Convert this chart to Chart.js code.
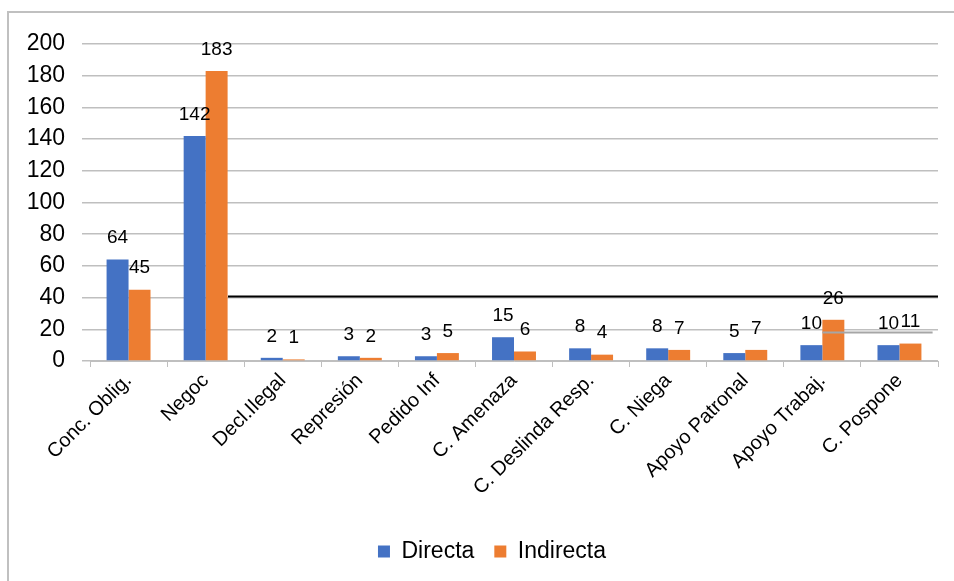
<!DOCTYPE html>
<html>
<head>
<meta charset="utf-8">
<script src="https://cdn.jsdelivr.net/npm/chart.js@4"></script>
<style>
  html, body { margin: 0; padding: 0; background: #fff; }
  #wrap { position: relative; width: 954px; height: 581px; }
  #frame { position: absolute; left: 7px; top: 11px; right: 0; bottom: 0;
           border-top: 2px solid #c0c0c0; border-left: 2px solid #c0c0c0; }
  canvas { position: absolute; left: 0; top: 0; }
</style>
</head>
<body>
<div id="wrap">
  <div id="frame"></div>
  <canvas id="barChart" width="954" height="581"></canvas>
</div>
<script>
// categorias y series
var categorias = ["Conc. Oblig.", "Negoc", "Decl.Ilegal", "Represión", "Pedido Inf",
    "C. Amenaza", "C. Deslinda Resp.", "C. Niega", "Apoyo Patronal", "Apoyo Trabaj.", "C. Pospone"];
var directa = [64, 142, 2, 3, 3, 15, 8, 8, 5, 10, 10];
var indirecta = [45, 183, 1, 2, 5, 6, 4, 7, 7, 26, 11];

// lineas sueltas que aparecen en la imagen (valor, desde categoria, hasta categoria)
var lineaValores = [41, 18];
var lineaDesde = [1.29, 9];
var lineaHasta = [10.9, 10.43];
var lineaColores = ['#000000', '#a6a6a6'];

// etiquetas de datos sobre las barras
var etiquetasPlugin = {
    id: 'etiquetas',
    afterDatasetsDraw: function (chart) {
        var ctx = chart.ctx;
        ctx.save();
        ctx.font = '19px "Liberation Sans", Arial, sans-serif';
        ctx.fillStyle = '#000';
        ctx.textAlign = 'center';
        ctx.textBaseline = 'bottom';
        chart.data.datasets.forEach(function (ds, i) {
            chart.getDatasetMeta(i).data.forEach(function (bar, j) {
                ctx.fillText(ds.data[j], bar.x, bar.y - 12);
            });
        });
        ctx.restore();
    }
};

var lineasPlugin = {
    id: 'lineas',
    afterDatasetsDraw: function (chart) {
        var ctx = chart.ctx;
        var xs = chart.scales.x, ys = chart.scales.y;
        ctx.save();
        lineaValores.forEach(function (v, i) {
            var y = Math.round(ys.getPixelForValue(v)) + 0.5;
            var x1 = xs.getPixelForValue(lineaDesde[i]);
            var x2 = Math.min(xs.getPixelForValue(lineaHasta[i]), chart.chartArea.right);
            ctx.strokeStyle = lineaColores[i];
            ctx.lineWidth = 2;
            ctx.beginPath();
            ctx.moveTo(x1, y);
            ctx.lineTo(x2, y);
            ctx.stroke();
        });
        ctx.restore();
    }
};

// la leyenda va centrada bajo el area de barras, no bajo todo el lienzo
var leyendaPlugin = {
    id: 'leyendaCentro',
    afterLayout: function (chart) {
        chart.legend.left += 13;
        chart.legend.right += 13;
    }
};

var ctxB = document.getElementById("barChart").getContext('2d');
var myBarChart = new Chart(ctxB, {
    type: 'bar',
    data: {
        labels: categorias,
        datasets: [{
                label: "Directa",
                data: directa,
                backgroundColor: '#4472C4',
                borderWidth: 0
            },
            {
                label: "Indirecta",
                data: indirecta,
                backgroundColor: '#ED7D31',
                borderWidth: 0
            }
        ]
    },
    options: {
        responsive: false,
        animation: false,
        devicePixelRatio: 1,
        layout: {
            padding: { left: 20, right: 16, top: 44, bottom: 8 }
        },
        datasets: {
            bar: { categoryPercentage: 0.57, barPercentage: 1.0 }
        },
        scales: {
            x: {
                afterFit: function (s) { s.height = 159; },
                grid: { drawOnChartArea: false, drawTicks: true, tickLength: 6, color: '#bfbfbf', offset: true },
                border: { display: true, color: '#bfbfbf' },
                ticks: {
                    autoSkip: false, maxRotation: 45, minRotation: 45, padding: 2,
                    color: '#000',
                    font: { family: '"Liberation Sans", Arial, sans-serif', size: 20 }
                }
            },
            y: {
                min: 0, max: 200,
                afterFit: function (s) { s.width = 70; },
                grid: { color: '#bfbfbf', lineWidth: 1.5, tickLength: 8 },
                border: { display: false },
                ticks: {
                    stepSize: 20, padding: 17, color: '#000',
                    font: { family: '"Liberation Sans", Arial, sans-serif', size: 23 }
                }
            }
        },
        plugins: {
            legend: {
                position: 'bottom',
                labels: {
                    boxWidth: 12, boxHeight: 12, padding: 20, color: '#000',
                    font: { family: '"Liberation Sans", Arial, sans-serif', size: 23 }
                }
            },
            tooltip: { enabled: false }
        }
    },
    plugins: [etiquetasPlugin, lineasPlugin, leyendaPlugin]
});
</script>
</body>
</html>
